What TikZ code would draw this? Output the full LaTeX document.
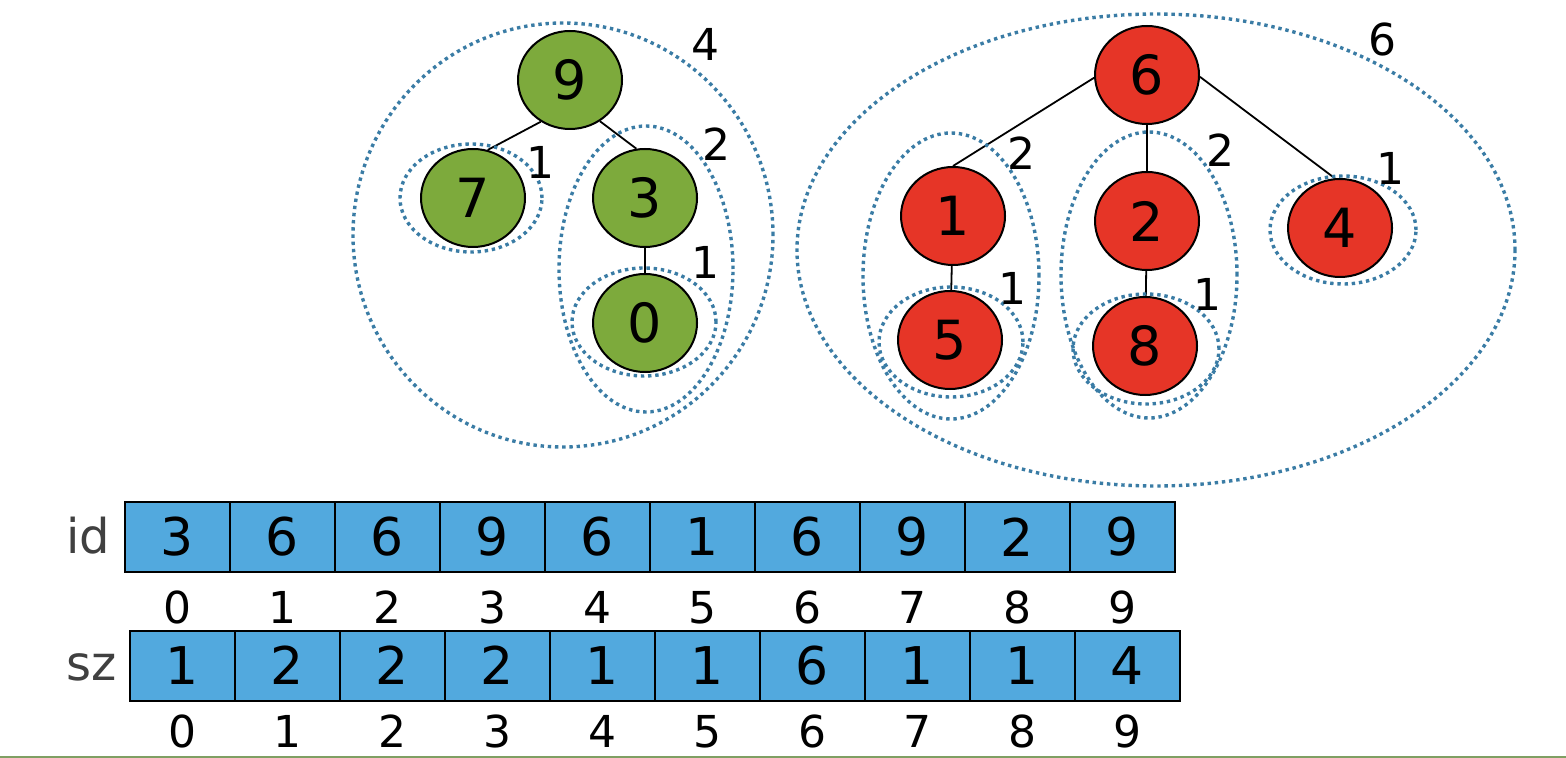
\documentclass[tikz,border=0pt]{standalone}
\usepackage{fontspec}
\setmainfont{DejaVu Sans}
\usetikzlibrary{positioning, shapes.geometric}

\definecolor{treegreen}{HTML}{7DAA3C}
\definecolor{treered}{HTML}{E63527}
\definecolor{cellblue}{HTML}{52A9DE}
\definecolor{setblue}{HTML}{3A7CA5}
\definecolor{rulegreen}{HTML}{7F9F63}

\begin{document}
\begin{tikzpicture}[
      x=0.5pt, y=-0.5pt,
      site/.style={ellipse, draw, line width=1pt, minimum width=52pt, minimum height=49pt, inner sep=0pt, font=\fontsize{27}{30}\selectfont},
      gnode/.style={site, fill=treegreen},
      rnode/.style={site, fill=treered},
      link/.style={line width=0.9pt},
      group/.style={draw=setblue, line width=1.7pt, dash pattern=on 1.7pt off 1.9pt},
      size/.style={font=\fontsize{22}{24}\selectfont},
      cell/.style={rectangle, draw, line width=1pt, fill=cellblue, minimum width=52.5pt, minimum height=35pt, inner sep=0pt, font=\fontsize{26}{28}\selectfont},
      index/.style={inner sep=0pt, anchor=base, font=\fontsize{22}{24}\selectfont},
      arrname/.style={text=black!75, font=\fontsize{24}{26}\selectfont}
    ]
    \useasboundingbox (0,0) rectangle (1566,758);

    % green tree
    \node[gnode] (n9) at (570,80) {9};
    \node[gnode] (n7) at (473,198) {7};
    \node[gnode] (n3) at (645,198) {3};
    \node[gnode] (n0) at (645,323) {0};
    \draw[link] (n9.235) -- (n7.73);
    \draw[link] (n9.306) -- (n3.100);
    \draw[link] (n3) -- (n0);

    \draw[group] (471,198) ellipse [x radius=35.5pt, y radius=27pt];
    \draw[group] (644,322) ellipse [x radius=36pt, y radius=27pt];
    \draw[group] (646,269) ellipse [x radius=43.5pt, y radius=71.5pt];
    \draw[group] (563,235) ellipse [x radius=105pt, y radius=106pt];
    \node[size] (s9) at (705,44) {4};
    \node[size] (s3) at (716,144) {2};
    \node[size] (s7) at (540,162) {1};
    \node[size] (s0) at (705,262) {1};

    % red tree
    \node[rnode] (n6) at (1147,75) {6};
    \node[rnode] (n1) at (953,216) {1};
    \node[rnode] (n2) at (1147,221) {2};
    \node[rnode] (n4) at (1340,228) {4};
    \node[rnode] (n5) at (950,340) {5};
    \node[rnode] (n8) at (1145,346) {8};
    \draw[link] (n6.183) -- (n1.north);
    \draw[link] (n6) -- (n2);
    \draw[link] (n6.358) -- (n4.96);
    \draw[link] (n1) -- (n5);
    \draw[link] (n2) -- (n8);

    \draw[group] (1156,250) ellipse [x radius=179.5pt, y radius=118pt];
    \draw[group] (951,276) ellipse [x radius=44pt, y radius=71.5pt];
    \draw[group] (951,342) ellipse [x radius=36pt, y radius=27.5pt];
    \draw[group] (1149,275) ellipse [x radius=44pt, y radius=71.5pt];
    \draw[group] (1146,349) ellipse [x radius=36.5pt, y radius=27.5pt];
    \draw[group] (1343,230) ellipse [x radius=36.5pt, y radius=27pt];
    \node[size] (s6) at (1382,39) {6};
    \node[size] (s1) at (1021,153) {2};
    \node[size] (s5) at (1012,288) {1};
    \node[size] (s2) at (1220,150) {2};
    \node[size] (s8) at (1207,294) {1};
    \node[size] (s4) at (1390,168) {1};

    % arrays
    \node[arrname] (idname) at (88,536) {id};
    \node[arrname] (szname) at (92,667) {sz};
    \foreach \v [count=\i from 0] in {3,6,6,9,6,1,6,9,2,9} {
      \node[cell] (id\i) at (177.5+105*\i,537) {\v};
      \node[index] (ix\i) at (177.5+105*\i,623) {\i};
    }
    \foreach \v [count=\i from 0] in {1,2,2,2,1,1,6,1,1,4} {
      \node[cell] (sz\i) at (182.5+105*\i,665.5) {\v};
      \node[index] (iy\i) at (182.5+105*\i,747) {\i};
    }

    \draw[rulegreen, line width=1pt] (0,756.5) -- (1566,756.5);

    \end{tikzpicture}
\end{document}
